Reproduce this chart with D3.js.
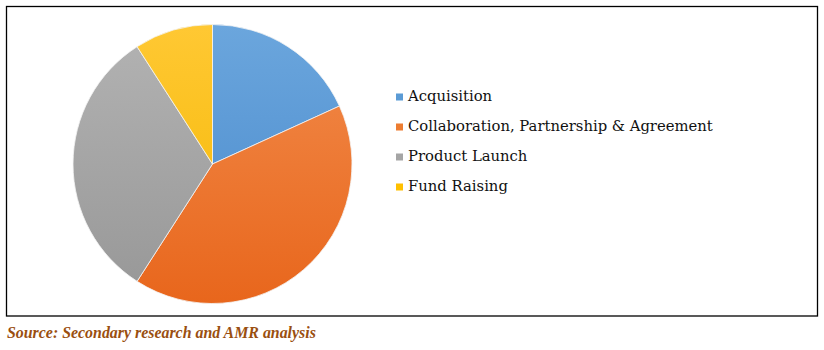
<!DOCTYPE html>
<html>
<head>
<meta charset="utf-8">
<script src="https://cdn.jsdelivr.net/npm/d3@7"></script>
<style>
  body { margin: 0; background: #fff; }
  svg { display: block; }
</style>
</head>
<body>
<svg id="chart"></svg>
<script>
// chart data
const categories = ["Acquisition", "Collaboration, Partnership & Agreement", "Product Launch", "Fund Raising"];
const values = [4, 9, 7, 2];
const colorsTop = ["#6ba6dd", "#f28c4c", "#b3b3b3", "#ffc833"];
const colorsBottom = ["#4788cb", "#e8661c", "#979797", "#f4b700"];
const legendColors = ["#5b9bd5", "#ed7d31", "#a5a5a5", "#ffc000"];
const sourceText = "Source: Secondary research and AMR analysis";

const svgWidth = 824;
const svgHeight = 350;

const svg = d3.select("#chart")
    .attr("width", svgWidth)
    .attr("height", svgHeight);

// outer frame
svg.append("rect")
    .attr("x", 6.5)
    .attr("y", 6.5)
    .attr("width", 811)
    .attr("height", 309.5)
    .attr("fill", "none")
    .attr("stroke", "#000")
    .attr("stroke-width", 1.3);

const cx = 212.5, cy = 164, radius = 139.5;

// vertical gradients, light on top, darker at bottom
const defs = svg.append("defs");
categories.forEach((c, i) => {
    const grad = defs.append("linearGradient")
        .attr("id", "grad" + i)
        .attr("gradientUnits", "userSpaceOnUse")
        .attr("x1", 0).attr("y1", -radius)
        .attr("x2", 0).attr("y2", radius);
    grad.append("stop").attr("offset", "0%").attr("stop-color", colorsTop[i]);
    grad.append("stop").attr("offset", "100%").attr("stop-color", colorsBottom[i]);
});

const pie = d3.pie().sort(null).value(d => d);
const arc = d3.arc().innerRadius(0).outerRadius(radius);

const g = svg.append("g")
    .attr("transform", `translate(${cx},${cy})`);

g.selectAll("path")
    .data(pie(values))
    .join("path")
    .attr("d", arc)
    .attr("fill", (d, i) => `url(#grad${i})`)
    .attr("stroke", "#f4f4f4")
    .attr("stroke-width", 0.8);

// legend
const legend = svg.append("g")
    .attr("transform", "translate(396,100)");

const rows = legend.selectAll("g")
    .data(categories)
    .join("g")
    .attr("transform", (d, i) => `translate(0,${i * 30})`);

rows.append("rect")
    .attr("x", 0)
    .attr("y", -6.5)
    .attr("width", 7)
    .attr("height", 7)
    .attr("fill", (d, i) => legendColors[i]);

rows.append("text")
    .attr("x", 12)
    .attr("y", 0.5)
    .attr("font-family", "'DejaVu Serif', serif")
    .attr("font-size", 14.8)
    .attr("fill", "#111")
    .text(d => d);

// source note
svg.append("text")
    .attr("x", 7)
    .attr("y", 337.5)
    .attr("font-family", "'Liberation Serif', serif")
    .attr("font-size", 15.9)
    .attr("font-weight", "bold")
    .attr("font-style", "italic")
    .attr("fill", "#9a4f10")
    .text(sourceText);
</script>
</body>
</html>
